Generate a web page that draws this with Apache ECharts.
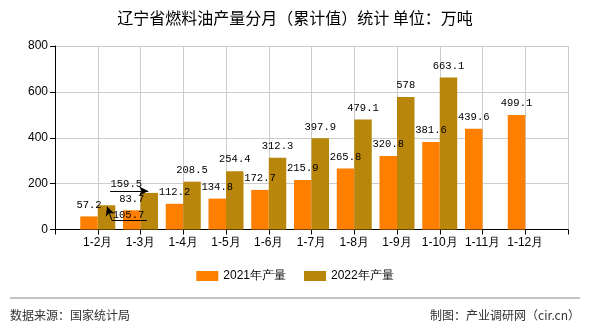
<!DOCTYPE html>
<html><head><meta charset="utf-8">
<script src="https://cdn.jsdelivr.net/npm/echarts@6/dist/echarts.min.js"></script>
<style>html,body{margin:0;padding:0;background:#fff}#c{width:590px;height:330px}</style>
</head><body><div id="c"></div>
<script>
const categories = ['1-2月','1-3月','1-4月','1-5月','1-6月','1-7月','1-8月','1-9月','1-10月','1-11月','1-12月'];
const values2021 = [57.2, 83.7, 112.2, 134.8, 172.7, 215.9, 265.8, 320.8, 381.6, 439.6, 499.1];
const values2022 = [105.7, 159.5, 208.5, 254.4, 312.3, 397.9, 479.1, 578, 663.1, null, null];
const yTicks = [0, 200, 400, 600, 800];
const seriesNames = ['2021年产量', '2022年产量'];

const pad = arr => [null].concat(arr, [null]);
const axisCats = [''].concat(categories, ['']);
const labelFont = {fontFamily: 'Liberation Mono', fontSize: 10.5, color: '#000'};

// leader arrows for the two displaced 2022 labels (anchored on category index / value)
const iA = axisCats.indexOf('1-2月'), vA = values2022[0];
const iB = axisCats.indexOf('1-3月'), vB = values2022[1];
const arrowLines = [
  [{coord: [iA + 0.29, vB + 8]}, {coord: [iB + 0.18, vB + 8], symbol: 'arrow'}],
  [{coord: [iB + 0.15, 41]}, {coord: [iA + 0.33, 41]}],
  [{coord: [iA + 0.33, 41]}, {coord: [iA + 0.22, vA - 6], symbol: 'arrow'}]
];

const chart = echarts.init(document.getElementById('c'));
chart.setOption({
  animation: false,
  title: {text: '辽宁省燃料油产量分月（累计值）统计 单位：万吨', left: 'center', top: 5,
    textStyle: {fontFamily: 'Noto Sans CJK SC', fontSize: 16, fontWeight: 'normal', color: '#000'}},
  grid: {left: 55, right: 22, top: 46, bottom: 100.5},
  legend: {data: seriesNames, bottom: 43, left: 'center', itemWidth: 22, itemHeight: 10, itemGap: 18,
    textStyle: {fontFamily: 'Liberation Sans', fontSize: 12, color: '#000'}, icon: 'rect'},
  xAxis: [{type: 'category', data: axisCats, boundaryGap: false,
    axisLine: {lineStyle: {color: '#000'}},
    axisTick: {show: true, length: 5, lineStyle: {color: '#000'}},
    axisLabel: {interval: 0, margin: 7, fontFamily: 'Liberation Sans', fontSize: 12, color: '#000'},
    splitLine: {show: true, lineStyle: {color: '#ccc'}}},
    {type: 'value', min: 0, max: axisCats.length - 1, show: false}],
  yAxis: {type: 'value', min: 0, max: 800, interval: 200,
    axisLine: {show: true, lineStyle: {color: '#000'}},
    axisTick: {show: true, length: 5, lineStyle: {color: '#000'}},
    axisLabel: {margin: 7, fontFamily: 'Liberation Sans', fontSize: 12, color: '#000',
      formatter: v => yTicks.indexOf(v) >= 0 ? String(v) : ''},
    splitLine: {show: true, lineStyle: {color: '#ccc'}}},
  series: [
    {name: seriesNames[0], type: 'bar', data: pad(values2021), barWidth: 17.5, barGap: '0%',
      itemStyle: {color: '#FF8000'},
      label: Object.assign({show: true, position: 'top', distance: 6}, labelFont)},
    {name: seriesNames[1], type: 'bar', data: pad(values2022), barWidth: 17.5, barGap: '0%',
      itemStyle: {color: '#B8860B'},
      label: Object.assign({show: true, position: 'top', distance: 6}, labelFont),
      labelLayout: function (p) {
        if (p.dataIndex === iA) return {dx: 22, dy: 21};
        if (p.dataIndex === iB) return {dx: -23, dy: 3};
        return {};
      }},
    {name: 'annot', type: 'line', xAxisIndex: 1, data: [], silent: true,
      markLine: {silent: true, symbol: 'none', symbolSize: [7, 9], label: {show: false},
        lineStyle: {color: '#000', width: 1, type: 'solid'}, emphasis: {disabled: true},
        data: arrowLines}}
  ],
  graphic: [
    {type: 'line', shape: {x1: 10, y1: 298, x2: 580, y2: 298}, style: {stroke: '#888', lineWidth: 1}},
    {type: 'text', left: 10, top: 309, style: {text: '数据来源：国家统计局', font: '12px "Noto Sans CJK SC"', fill: '#333'}},
    {type: 'text', right: 10, top: 309, style: {text: '制图：产业调研网（cir.cn）', font: '12px "Noto Sans CJK SC"', fill: '#333'}}
  ]
});
</script></body></html>
